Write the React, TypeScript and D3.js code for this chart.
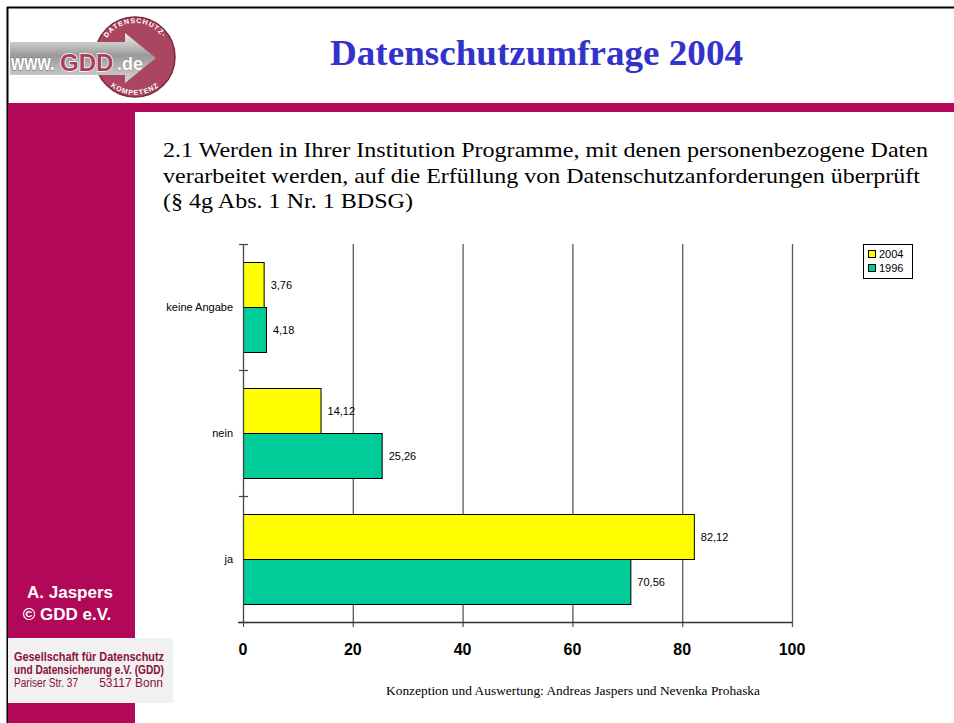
import { useEffect, useRef } from 'react';
import * as d3 from 'd3';

// survey answers, top to bottom
const categories = ['keine Angabe', 'nein', 'ja'];
const seriesNames = ['2004', '1996'];
const values2004 = [3.76, 14.12, 82.12];
const values1996 = [4.18, 25.26, 70.56];
const xTicks = [0, 20, 40, 60, 80, 100];

const questionLines = [
  '2.1 Werden in Ihrer Institution Programme, mit denen personenbezogene Daten',
  'verarbeitet werden, auf die Erfüllung von Datenschutzanforderungen überprüft',
  '(§ 4g Abs. 1 Nr. 1 BDSG)',
];
const questionWidths = [765, 757, 250];

const MAGENTA = '#b10857';
const SERIF = 'Liberation Serif, Times New Roman, serif';
const colors = { '2004': '#ffff00', '1996': '#00cc99' };

function App() {
  const ref = useRef<SVGSVGElement>(null);

  useEffect(() => {
    const svg = d3.select(ref.current);
    svg.selectAll('*').remove();

    // frame + decoration
    svg.append('rect').attr('x', 0).attr('y', 0).attr('width', 954).attr('height', 723).attr('fill', '#fff');
    svg.append('line').attr('x1', 7).attr('x2', 954).attr('y1', 7.5).attr('y2', 7.5).attr('stroke', '#000').attr('stroke-width', 2);
    svg.append('line').attr('x1', 7.5).attr('x2', 7.5).attr('y1', 7).attr('y2', 723).attr('stroke', '#000').attr('stroke-width', 2);
    svg.append('rect').attr('x', 8).attr('y', 103).attr('width', 946).attr('height', 9).attr('fill', MAGENTA);
    svg.append('rect').attr('x', 8).attr('y', 103).attr('width', 127).attr('height', 620).attr('fill', MAGENTA);

    // logo
    const logo = svg.append('g');
    const defs = svg.append('defs');
    const grad = defs.append('linearGradient').attr('id', 'arrowGrad').attr('x1', 0).attr('y1', 0).attr('x2', 0).attr('y2', 1);
    grad.append('stop').attr('offset', '0%').attr('stop-color', '#f0f0f0');
    grad.append('stop').attr('offset', '45%').attr('stop-color', '#9a9a9a');
    grad.append('stop').attr('offset', '100%').attr('stop-color', '#d8d8d8');
    logo.append('circle').attr('cx', 135).attr('cy', 57).attr('r', 40).attr('fill', '#aa4660').attr('stroke', '#7a2a40').attr('stroke-width', 1.5);
    logo.append('path')
      .attr('d', 'M10,42 L125,42 L125,33 L156,58 L125,83 L125,75 L10,75 Z')
      .attr('fill', 'url(#arrowGrad)');
    logo.append('text').attr('transform', 'translate(11,70) scale(1,1.35)')
      .style('font-family', 'Liberation Sans, Arial, sans-serif').style('font-weight', 'bold').style('font-size', '17px')
      .attr('fill', '#fff').attr('stroke', '#666').attr('stroke-width', 0.6).attr('paint-order', 'stroke')
      .text('www.');
    logo.append('text').attr('x', 60).attr('y', 71)
      .style('font-family', 'Liberation Sans, Arial, sans-serif').style('font-weight', 'bold').style('font-size', '24px')
      .attr('fill', '#a8405c').attr('stroke', '#fff').attr('stroke-width', 1.5).attr('paint-order', 'stroke')
      .text('GDD');
    logo.append('text').attr('x', 117).attr('y', 70)
      .style('font-family', 'Liberation Sans, Arial, sans-serif').style('font-weight', 'bold').style('font-size', '18px')
      .attr('fill', '#fff').attr('stroke', '#666').attr('stroke-width', 0.5).attr('paint-order', 'stroke')
      .text('.de');
    defs.append('path').attr('id', 'arcTop').attr('d', 'M101,57 A34,34 0 0 1 169,57');
    defs.append('path').attr('id', 'arcBot').attr('d', 'M97,57 A38,38 0 0 0 173,57');
    logo.append('text').attr('fill', '#fff').style('font-family', 'Arial').style('font-weight', 'bold').style('font-size', '7px')
      .append('textPath').attr('href', '#arcTop').attr('startOffset', '50%').attr('text-anchor', 'middle').attr('letter-spacing', 1).text('DATENSCHUTZ-');
    logo.append('text').attr('fill', '#fff').style('font-family', 'Arial').style('font-weight', 'bold').style('font-size', '7px')
      .append('textPath').attr('href', '#arcBot').attr('startOffset', '50%').attr('text-anchor', 'middle').attr('letter-spacing', 1).text('KOMPETENZ');

    // title + question
    svg.append('text').attr('x', 330).attr('y', 65).attr('fill', '#3333cc')
      .style('font-family', SERIF).style('font-weight', 'bold').style('font-size', '36px')
      .attr('textLength', 413).attr('lengthAdjust', 'spacingAndGlyphs')
      .text('Datenschutzumfrage 2004');
    svg.append('g').selectAll('text').data(questionLines).enter().append('text')
      .attr('x', 163).attr('y', (d, i) => 157 + i * 25.5)
      .style('font-family', SERIF).style('font-size', '22px').attr('fill', '#000')
      .attr('textLength', (d, i) => questionWidths[i]).attr('lengthAdjust', 'spacingAndGlyphs')
      .text(d => d);

    // sidebar texts
    const side = svg.append('g').style('font-family', 'Liberation Sans, Arial, sans-serif').style('font-weight', 'bold')
      .style('font-size', '17px').attr('fill', '#fff').attr('text-anchor', 'middle');
    side.append('text').attr('x', 70).attr('y', 598).text('A. Jaspers');
    side.append('text').attr('x', 67).attr('y', 620).text('©  GDD e.V.');
    svg.append('rect').attr('x', 8).attr('y', 638).attr('width', 165).attr('height', 65).attr('fill', '#f1f1f1');
    const addr = svg.append('g').style('font-family', 'Liberation Sans Narrow, Arial Narrow, Arial').style('font-size', '12px').attr('fill', '#8a1040');
    addr.append('text').attr('x', 14).attr('y', 661).style('font-weight', 'bold').attr('textLength', 150).attr('lengthAdjust', 'spacingAndGlyphs').text('Gesellschaft für Datenschutz');
    addr.append('text').attr('x', 14).attr('y', 674).style('font-weight', 'bold').attr('textLength', 150).attr('lengthAdjust', 'spacingAndGlyphs').text('und Datensicherung e.V. (GDD)');
    addr.append('text').attr('x', 14).attr('y', 687).attr('textLength', 64).attr('lengthAdjust', 'spacingAndGlyphs').text('Pariser Str. 37');
    addr.append('text').attr('x', 163).attr('y', 687).attr('text-anchor', 'end').text('53117 Bonn');

    // chart
    const x = d3.scaleLinear().domain([0, 100]).range([243, 792]);
    const y = d3.scaleBand<string>().domain(categories).range([244, 622]);
    const sub = d3.scaleBand<string>().domain(seriesNames).range([0, y.bandwidth()]).paddingOuter(0.4);
    const rows = categories.map((c, i) => ({ cat: c, vals: [values2004[i], values1996[i]] }));
    const top = 244, bottom = 622;

    const chart = svg.append('g').style('font-family', 'Liberation Sans, Arial, sans-serif');

    chart.append('g').selectAll('line').data(xTicks.slice(1)).enter().append('line')
      .attr('x1', d => x(d) + 0.5).attr('x2', d => x(d) + 0.5).attr('y1', top).attr('y2', bottom + 5)
      .attr('stroke', '#5a5a5a').attr('stroke-width', 1.3);

    rows.forEach(r => {
      seriesNames.forEach((s, j) => {
        const by = (y(r.cat) as number) + (sub(s) as number);
        chart.append('rect')
          .attr('x', x(0) + 0.5).attr('y', by + 0.5)
          .attr('width', x(r.vals[j]) - x(0)).attr('height', sub.bandwidth())
          .attr('fill', colors[s as '2004']).attr('stroke', '#000').attr('stroke-width', 1);
        chart.append('text')
          .attr('x', x(r.vals[j]) + 7).attr('y', by + sub.bandwidth() / 2 + 4)
          .style('font-size', '11px').attr('fill', '#000')
          .text(String(r.vals[j]).replace('.', ','));
      });
      chart.append('text')
        .attr('x', 233).attr('y', (y(r.cat) as number) + y.bandwidth() / 2 + 4)
        .attr('text-anchor', 'end').style('font-size', '11px').attr('fill', '#000').text(r.cat);
    });

    // left axis
    chart.append('line').attr('x1', 243.5).attr('x2', 243.5).attr('y1', top).attr('y2', bottom).attr('stroke', '#444').attr('stroke-width', 1.3);
    const bounds = categories.map(c => y(c) as number).concat([bottom]);
    chart.append('g').selectAll('line').data(bounds).enter().append('line')
      .attr('x1', 239).attr('x2', 248).attr('y1', d => d + 0.5).attr('y2', d => d + 0.5).attr('stroke', '#444').attr('stroke-width', 1.2);

    // bottom axis
    chart.append('line').attr('x1', 238).attr('x2', 792).attr('y1', bottom + 0.5).attr('y2', bottom + 0.5).attr('stroke', '#333').attr('stroke-width', 1.3);
    chart.append('line').attr('x1', 243.5).attr('x2', 243.5).attr('y1', bottom).attr('y2', bottom + 5).attr('stroke', '#444');
    chart.append('g').selectAll('text').data(xTicks).enter().append('text')
      .attr('x', d => x(d)).attr('y', 655).attr('text-anchor', 'middle')
      .style('font-size', '16px').style('font-weight', 'bold').attr('fill', '#000').text(d => d);

    // legend
    const lg = chart.append('g');
    lg.append('rect').attr('x', 863.5).attr('y', 244.5).attr('width', 49).attr('height', 34).attr('fill', '#fff').attr('stroke', '#000');
    seriesNames.forEach((s, i) => {
      lg.append('rect').attr('x', 868.5).attr('y', 250.5 + i * 14).attr('width', 7).attr('height', 7)
        .attr('fill', colors[s as '2004']).attr('stroke', '#000');
      lg.append('text').attr('x', 879).attr('y', 258 + i * 14).style('font-size', '11px').attr('fill', '#000').text(s);
    });

    // footer
    svg.append('text').attr('x', 386).attr('y', 695)
      .style('font-family', SERIF).style('font-size', '12.5px').attr('fill', '#000')
      .attr('textLength', 374).attr('lengthAdjust', 'spacingAndGlyphs')
      .text('Konzeption und Auswertung: Andreas Jaspers und Nevenka Prohaska');
  }, []);

  return (
    <svg ref={ref} width={954} height={723} style={{ position: 'absolute', left: 0, top: 0 }} />
  );
}

export default App;
